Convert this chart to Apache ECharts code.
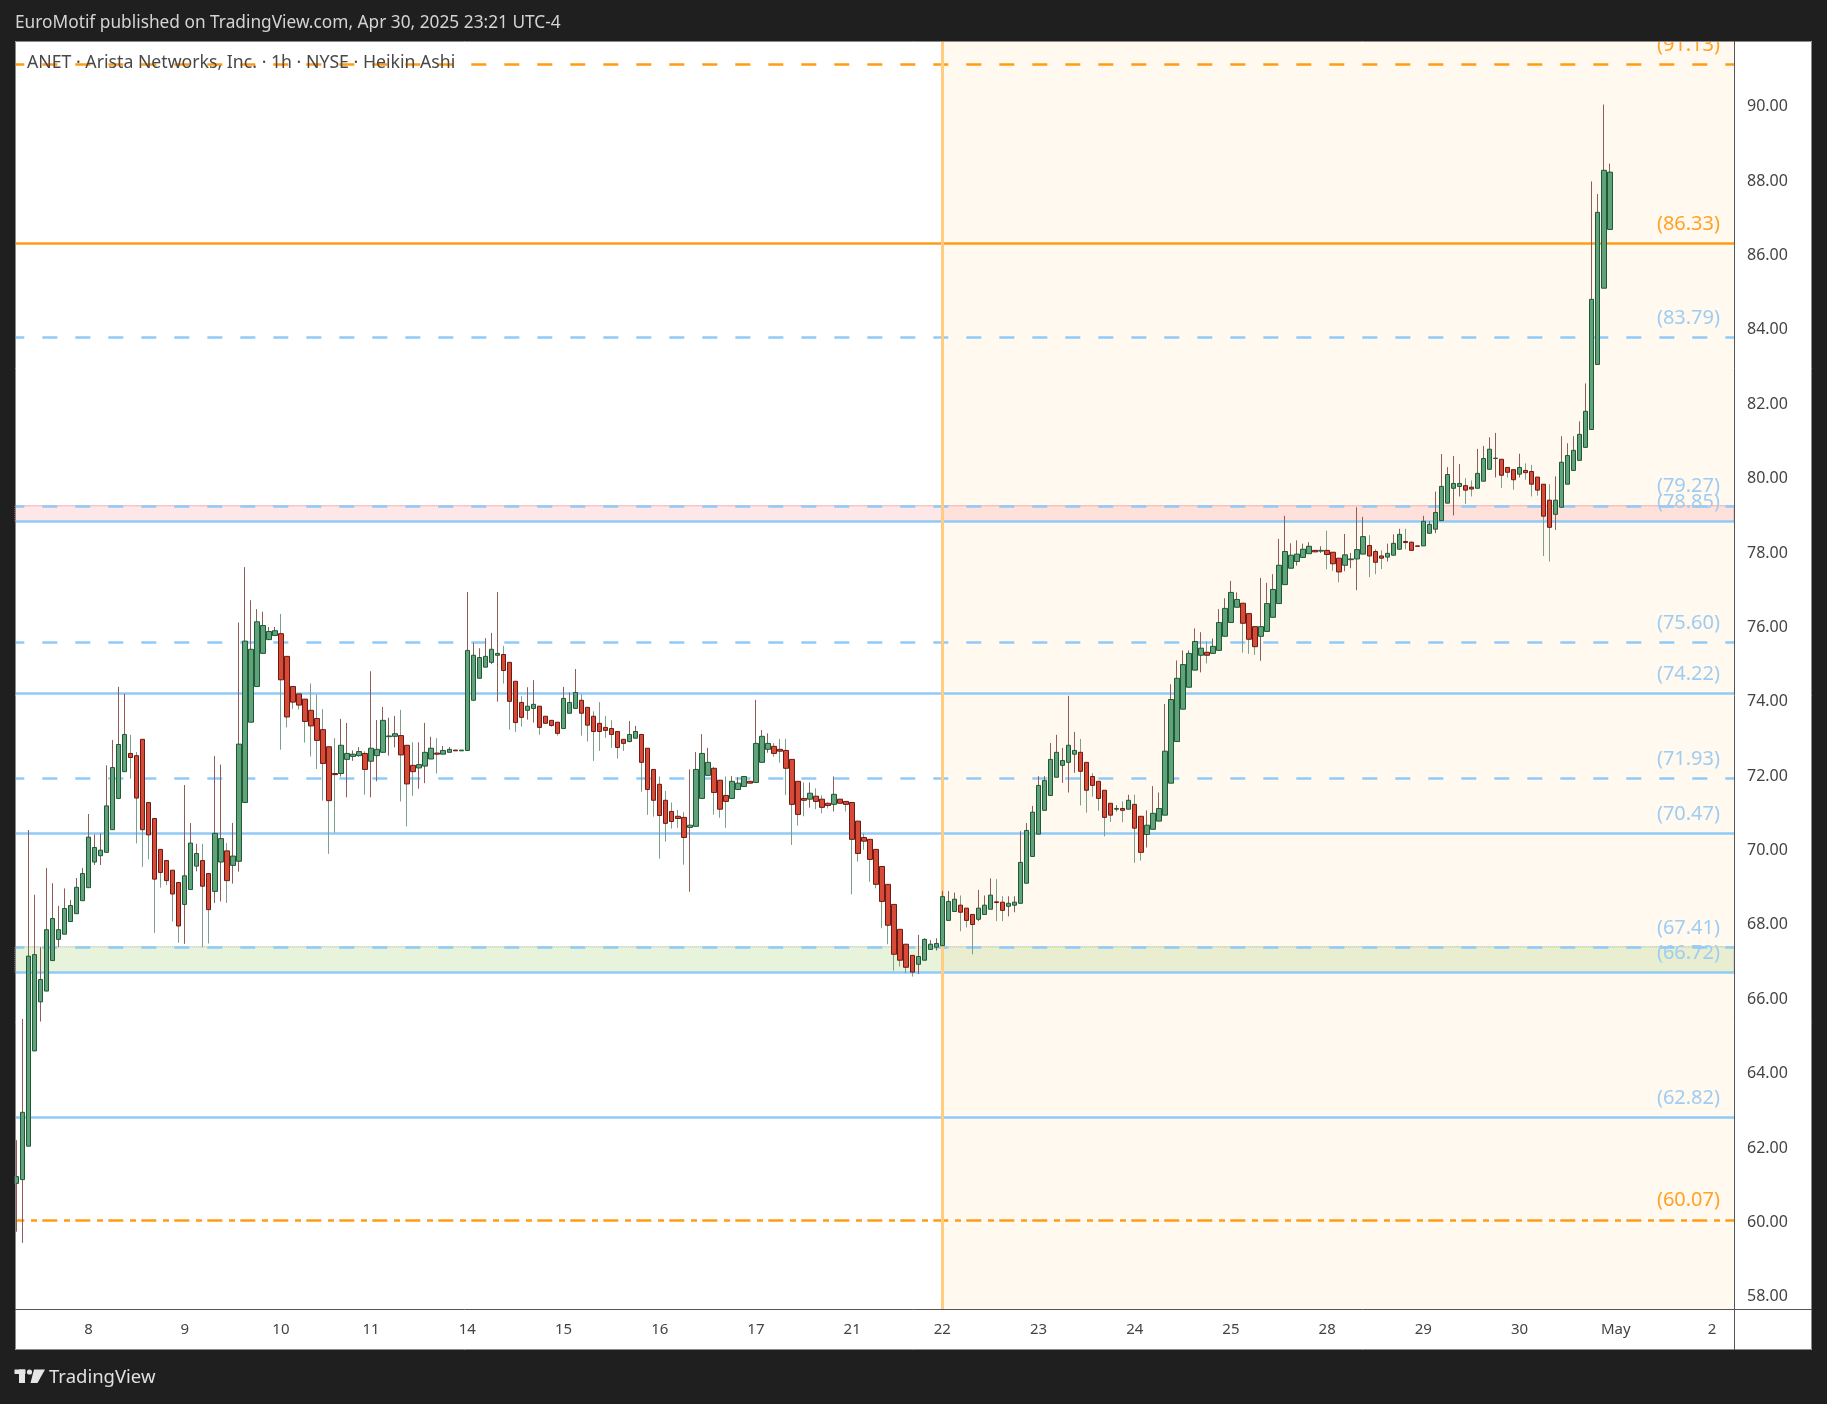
<!DOCTYPE html>
<html><head><meta charset="utf-8">
<script src="https://cdn.jsdelivr.net/npm/echarts@6/dist/echarts.min.js"></script>
<style>html,body{margin:0;padding:0;background:#1f1f1f;}#c{width:1827px;height:1404px;}</style>
</head><body><div id="c"></div>
<script>
// ---- Heikin Ashi 1h bars (index = bar slot) ----
const opens = [61.05,61.15,62.05,64.61,65.93,66.22,67.04,67.61,67.75,68.09,68.30,68.65,69.00,69.69,69.86,69.95,70.56,71.40,72.12,72.61,
72.55,72.99,71.29,70.86,70.03,69.73,69.47,69.14,68.55,68.95,69.58,69.73,69.38,68.90,69.69,69.99,69.60,69.71,71.29,73.45,
74.41,75.30,75.67,75.78,75.83,75.22,74.41,74.21,74.07,73.77,73.55,73.25,72.79,72.07,72.07,72.45,72.53,72.55,72.61,72.40,
72.55,72.64,73.06,73.07,73.09,72.83,72.29,72.22,72.27,72.46,72.62,72.59,72.64,72.70,72.68,72.69,74.04,74.63,74.93,75.06,
75.25,75.27,75.06,74.55,73.98,73.77,73.82,73.88,73.61,73.50,73.45,73.28,73.69,73.82,74.04,73.85,73.61,73.42,73.31,73.28,
73.20,72.99,72.93,73.02,73.12,72.75,72.18,71.78,71.35,71.05,70.92,70.89,70.62,70.65,71.40,72.02,72.21,71.89,71.48,71.40,
71.64,71.72,71.86,71.83,72.37,72.72,72.80,72.72,72.69,72.45,71.86,71.40,71.38,71.46,71.38,71.27,71.24,71.38,71.32,71.29,
70.79,70.35,70.30,70.03,69.57,69.09,68.55,67.88,67.48,67.18,66.94,67.05,67.34,67.40,67.44,68.12,68.36,68.53,68.45,68.28,
68.15,68.28,68.42,68.62,68.61,68.50,68.53,68.58,69.12,69.84,70.44,71.08,71.48,71.97,72.29,72.37,72.59,72.64,72.37,71.99,
71.86,71.62,71.27,71.11,71.13,71.11,71.24,70.92,70.43,70.57,70.79,70.95,71.81,72.93,73.80,74.39,74.85,75.25,75.33,75.30,
75.38,75.76,76.13,76.54,76.65,76.37,76.02,75.76,75.89,76.27,76.64,77.15,77.59,77.77,77.88,77.98,78.07,78.05,78.07,78.02,
77.86,77.67,77.82,77.84,77.97,78.20,78.04,77.92,77.89,77.94,78.10,78.31,78.29,78.19,78.19,78.53,78.64,78.87,79.34,79.74,
79.79,79.81,79.77,79.74,79.93,80.25,80.54,80.52,80.30,80.24,80.12,80.22,80.19,80.04,79.85,79.42,79.04,79.23,79.85,80.22,
80.49,80.84,81.32,83.07,85.12,86.70];
const closes = [61.23,62.96,67.16,67.20,66.53,67.87,68.17,67.87,68.44,68.52,69.01,69.38,70.36,70.08,70.01,71.20,72.23,72.85,73.12,72.50,
71.41,70.56,70.42,69.23,69.41,69.19,68.83,67.97,69.32,70.20,69.92,69.04,68.41,70.46,70.32,69.19,69.85,72.86,75.63,75.41,
76.15,76.05,75.89,75.91,74.59,73.59,73.99,73.91,73.47,73.35,72.96,72.34,71.34,72.04,72.83,72.61,72.59,72.66,72.18,72.75,
72.72,73.50,73.08,73.14,72.57,71.79,72.12,72.31,72.64,72.75,72.59,72.69,72.72,72.68,72.70,75.38,75.25,75.19,75.22,75.41,
75.30,74.84,74.01,73.44,73.58,73.88,73.93,73.31,73.42,73.36,73.15,74.09,73.98,74.25,73.69,73.37,73.20,73.20,73.23,73.12,
72.77,72.88,73.12,73.20,72.37,71.64,71.35,70.94,70.73,70.78,70.86,70.35,70.68,72.18,72.61,72.37,71.56,71.11,71.32,71.86,
71.81,71.99,71.81,72.88,73.07,72.88,72.61,72.67,72.21,71.24,70.97,71.35,71.54,71.32,71.16,71.21,71.51,71.27,71.24,70.30,
69.92,70.25,69.76,69.09,68.63,67.99,67.21,67.05,66.86,66.73,67.15,67.61,67.48,67.50,68.76,68.63,68.69,68.34,68.12,68.01,
68.45,68.53,68.80,68.60,68.39,68.58,68.61,69.68,70.54,71.03,71.75,71.88,72.45,72.64,72.42,72.83,72.69,72.13,71.62,71.75,
71.40,70.89,70.95,71.13,71.08,71.35,70.60,69.95,70.68,71.00,71.13,72.67,74.06,74.63,75.00,75.30,75.62,75.44,75.25,75.49,
76.13,76.51,76.94,76.75,76.11,75.68,75.48,76.02,76.64,77.02,77.67,78.04,77.94,77.97,78.10,78.18,78.03,78.07,77.96,77.71,
77.49,77.95,77.84,78.09,78.44,77.92,77.75,77.86,77.99,78.26,78.50,78.28,78.07,78.18,78.85,78.77,79.09,79.79,80.11,79.87,
79.87,79.69,79.72,80.14,80.54,80.79,80.55,80.09,80.17,79.97,80.30,80.16,79.85,79.69,78.99,78.69,79.42,80.44,80.62,80.76,
81.19,81.81,84.82,87.16,88.29,88.24];
const lows = [59.75,59.45,62.05,64.61,65.40,66.22,67.04,67.40,67.75,68.09,68.30,68.65,69.00,69.61,69.61,69.95,70.56,71.40,72.12,71.93,
70.19,69.56,69.76,67.79,69.00,69.07,68.09,67.52,67.49,68.95,69.44,67.40,67.50,68.59,68.63,68.59,69.11,69.43,71.29,73.45,
74.41,75.30,75.67,75.78,72.71,73.31,73.81,73.79,72.90,72.53,72.19,71.34,69.91,70.48,71.99,71.43,72.41,72.52,71.50,71.43,
71.86,72.64,72.55,72.77,71.32,70.65,71.47,71.66,71.81,72.46,72.07,72.59,72.64,72.68,72.68,72.69,74.04,74.63,74.93,75.01,
74.00,74.49,73.25,73.19,73.33,73.52,73.44,73.11,73.42,73.33,73.09,73.28,73.69,73.82,73.09,72.93,72.41,72.68,73.03,72.76,
72.47,72.68,72.91,73.02,71.58,70.96,70.91,69.78,70.24,70.59,70.61,69.62,68.89,70.65,71.40,72.02,70.96,70.88,70.61,71.40,
71.64,71.72,71.81,71.83,72.37,72.63,72.52,72.36,71.49,70.15,70.67,70.92,71.15,71.11,71.00,71.13,71.05,71.27,71.05,68.82,
69.70,70.02,69.16,68.98,67.91,67.48,66.77,66.88,66.70,66.61,66.68,67.05,67.34,67.31,67.44,68.12,68.36,67.83,67.93,67.21,
68.10,68.28,68.42,68.10,68.10,68.23,68.34,68.58,69.12,69.84,70.44,71.08,71.48,71.97,71.82,71.56,72.09,71.21,71.02,71.45,
71.07,70.38,70.77,71.05,70.76,71.11,69.67,69.73,70.08,70.57,70.79,70.95,71.81,72.93,73.80,74.39,74.85,74.79,75.03,75.30,
75.38,75.76,76.13,76.54,75.32,75.29,75.26,75.10,75.89,76.27,76.64,77.15,77.59,77.66,77.88,77.98,78.03,78.00,77.56,77.52,
77.21,77.51,77.59,77.00,77.97,77.35,77.43,77.57,77.77,77.94,78.10,78.10,78.07,78.18,78.19,78.53,78.53,78.87,79.34,79.01,
79.52,79.32,79.52,79.74,79.93,80.25,80.03,79.75,80.03,79.70,80.03,79.97,79.52,79.54,77.92,77.77,78.62,79.23,79.85,80.22,
80.49,80.84,81.32,83.07,85.12,86.70];
const highs = [62.21,65.47,70.55,68.81,67.40,69.53,69.12,68.51,68.98,68.67,69.26,69.53,70.98,70.43,70.46,72.29,72.97,74.40,74.21,73.11,
72.65,72.99,71.29,70.86,70.03,69.73,69.47,69.14,71.76,70.74,70.18,70.18,69.38,72.54,72.31,70.20,70.74,76.13,77.62,76.73,
76.49,76.42,76.01,76.01,76.36,75.22,74.41,74.21,74.07,74.49,74.20,73.80,72.79,73.02,73.54,73.43,72.69,72.78,72.67,74.82,
73.51,73.86,73.57,73.62,73.78,72.83,72.91,72.91,73.43,73.06,73.02,72.81,72.78,72.70,72.70,76.95,75.58,75.44,75.71,75.85,
76.95,75.50,75.06,74.55,74.15,74.39,74.58,73.88,73.61,73.50,73.45,74.40,74.25,74.88,74.20,73.85,73.74,73.99,73.62,73.50,
73.20,72.99,73.48,73.35,73.12,72.75,72.18,71.99,71.60,71.29,71.09,71.03,72.18,72.65,73.13,72.76,72.25,71.89,71.99,72.00,
71.97,72.00,71.86,74.05,73.24,73.15,72.89,73.00,73.00,72.45,71.86,71.83,71.83,71.67,71.48,71.29,71.99,71.38,71.32,71.29,
70.79,70.46,70.30,70.03,69.57,69.09,68.55,67.88,67.48,67.18,67.73,67.64,67.59,67.64,68.91,68.91,68.87,68.79,68.45,68.28,
68.94,68.79,69.25,69.23,68.77,68.77,68.77,70.52,70.74,71.20,72.00,72.00,72.89,73.11,72.76,74.16,73.19,73.00,72.37,72.08,
71.86,71.62,71.27,71.22,71.32,71.50,71.50,70.92,71.08,71.73,71.56,73.94,74.47,75.11,75.38,75.38,75.97,75.87,75.62,75.70,
76.49,76.78,77.25,76.94,76.65,76.37,76.02,77.33,77.20,77.43,78.38,79.00,78.26,78.34,78.25,78.29,78.07,78.18,78.60,78.02,
77.86,78.51,78.00,79.23,78.97,78.48,78.10,78.07,78.25,78.50,78.65,78.65,78.31,78.19,79.00,78.86,79.65,80.66,80.31,80.61,
80.39,80.01,79.95,80.80,80.88,81.11,81.23,80.52,80.30,80.24,80.67,80.41,80.37,80.04,79.85,79.85,80.06,81.14,80.95,81.14,
81.54,82.56,87.99,87.65,90.06,88.47];

// ---- time axis ----
const dayTickIndex = [12,28,44,59,75,91,107,123,139,154,170,186,202,218,234,250,266,282];
const dayTickLabels = ['8','9','10','11','14','15','16','17','21','22','23','24','25','28','29','30','May','2'];
const sessionStartIndex = 154;

// ---- price axis ----
const priceTicks = [58,60,62,64,66,68,70,72,74,76,78,80,82,84,86,88,90];

// ---- horizontal levels ----
const levelPrices = [91.13, 86.33, 83.79, 79.27, 78.85, 75.60, 74.22, 71.93, 70.47, 67.41, 66.72, 62.82, 60.07];
const levelKinds  = ['orangeDash','orangeSolid','blueDash','blueDash','blueSolid','blueDash','blueSolid','blueDash','blueSolid','blueDash','blueSolid','blueSolid','orangeDashDot'];

// ---- zones ----
const redZone = [78.85, 79.27];
const greenZone = [66.72, 67.41];

const FONT = 'Noto Sans';
const styles = {
  orangeDash:    {color:'#ff9c14', type:[15,18], label:'#ffa226'},
  orangeSolid:   {color:'#ff9c14', type:'solid', label:'#ffa226'},
  orangeDashDot: {color:'#ff9c14', type:[15,6.7,6,5.3], label:'#ffa226'},
  blueDash:      {color:'#90caf9', type:[15,18], label:'#9fcdf1'},
  blueSolid:     {color:'#90caf9', type:'solid', label:'#9fcdf1'}
};

const wickData = opens.map((o,i)=>[i, o, closes[i], lows[i], highs[i]]);
const bodyData = opens.map((o,i)=>[i, o, closes[i], Math.min(o,closes[i]), Math.max(o,closes[i])]);
const labelMap = {};
dayTickIndex.forEach((d,k)=>{labelMap[d]=dayTickLabels[k];});

const levelLines = levelPrices.map((p,k)=>{
  const s = styles[levelKinds[k]];
  return {
    yAxis: p,
    lineStyle: {color:s.color, width:2.5, type:s.type, dashOffset:5.7, opacity:1},
    label: {show:true, position:'insideEndTop', formatter:'(' + p.toFixed(2) + ')', color:s.label,
            fontSize:20, fontFamily:FONT, distance:[14,9]}
  };
});
levelLines.push({xAxis: sessionStartIndex, lineStyle:{color:'#ffcc80', width:3, type:'solid'}, label:{show:false}});

const chart = echarts.init(document.getElementById('c'), null, {renderer:'canvas'});
chart.setOption({
  animation:false,
  backgroundColor:'#1f1f1f',
  grid:{left:15, right:93, top:41, bottom:94.7, outerBoundsMode:'none', containLabel:false},
  xAxis:{type:'value', min:-0.22, max:285.66,
    axisLine:{show:false}, axisTick:{show:false}, splitLine:{show:false},
    axisLabel:{customValues:dayTickIndex, formatter:v=>labelMap[v]||'', margin:13, fontSize:15, color:'#444', fontFamily:FONT}},
  yAxis:{type:'value', position:'right', min:57.663, max:91.767,
    axisLine:{show:false}, axisTick:{show:false}, splitLine:{show:false},
    axisLabel:{customValues:priceTicks, formatter:v=>v.toFixed(2), margin:13, fontSize:16, color:'#444', fontFamily:FONT}},
  series:[
    {type:'line', name:'zones', data:[], z:1,
     markArea:{silent:true, z:1, data:[
       [{xAxis:sessionStartIndex, itemStyle:{color:'#fff9f0'}}, {xAxis:285.66}],
       [{yAxis:redZone[0], itemStyle:{color:'rgba(242,54,69,0.12)', borderColor:'#ef6b6b', borderWidth:1, borderType:'dotted'}}, {yAxis:redZone[1]}],
       [{yAxis:greenZone[0], itemStyle:{color:'rgba(139,195,74,0.2)', borderColor:'#98ad8c', borderWidth:1, borderType:'dotted'}}, {yAxis:greenZone[1]}]
     ]}},
    {type:'line', name:'levels', data:[], z:2,
     markLine:{silent:true, z:2, symbol:['none','none'], data:levelLines}},
    {type:'candlestick', name:'wicks', z:3, barWidth:1, data:wickData,
     itemStyle:{color:'#8e5d57', color0:'#7c9e8b', borderColor:'#8e5d57', borderColor0:'#7c9e8b', borderWidth:1}},
    {type:'candlestick', name:'bodies', z:4, barWidth:5, data:bodyData,
     itemStyle:{color:'#62a27b', color0:'#d64a38', borderColor:'#1d5a36', borderColor0:'#6e1a12', borderWidth:1}}
  ],
  graphic:{elements:[
    {type:'rect', z:-10, shape:{x:15,y:41,width:1797,height:1309}, style:{fill:'#ffffff'}},
    {type:'rect', z:50, shape:{x:0,y:0,width:1827,height:41}, style:{fill:'#1f1f1f'}},
    {type:'rect', z:50, shape:{x:15.5,y:41.5,width:1796,height:1308}, style:{fill:null, stroke:'#8a8a8a', lineWidth:1}},
    {type:'line', z:50, shape:{x1:1734.5,y1:41,x2:1734.5,y2:1350}, style:{stroke:'#555', lineWidth:1}},
    {type:'line', z:50, shape:{x1:15,y1:1309.5,x2:1812,y2:1309.5}, style:{stroke:'#555', lineWidth:1}},
    {type:'text', z:51, x:15, y:23, style:{text:'EuroMotif published on TradingView.com, Apr 30, 2025 23:21 UTC-4', fill:'#d4d4d4', font:'17.3px "Noto Sans"', verticalAlign:'middle'}},
    {type:'text', z:51, x:27, y:63, style:{text:'ANET · Arista Networks, Inc. · 1h · NYSE · Heikin Ashi', fill:'#484848', font:'17.7px "Noto Sans"', verticalAlign:'middle'}},
    {type:'rect', z:51, shape:{x:14.5,y:1369.5,width:11,height:4.5}, style:{fill:'#e6e6e6'}},
    {type:'rect', z:51, shape:{x:19,y:1369.5,width:6,height:13.5}, style:{fill:'#e6e6e6'}},
    {type:'circle', z:51, shape:{cx:29.5,cy:1372,r:2.6}, style:{fill:'#e6e6e6'}},
    {type:'polygon', z:51, shape:{points:[[34,1369.5],[45,1369.5],[37.5,1383],[30.5,1383]]}, style:{fill:'#e6e6e6'}},
    {type:'text', z:51, x:49, y:1378, style:{text:'TradingView', fill:'#e0e0e0', font:'18.5px "Noto Sans"', verticalAlign:'middle'}}
  ]}
});
</script></body></html>
